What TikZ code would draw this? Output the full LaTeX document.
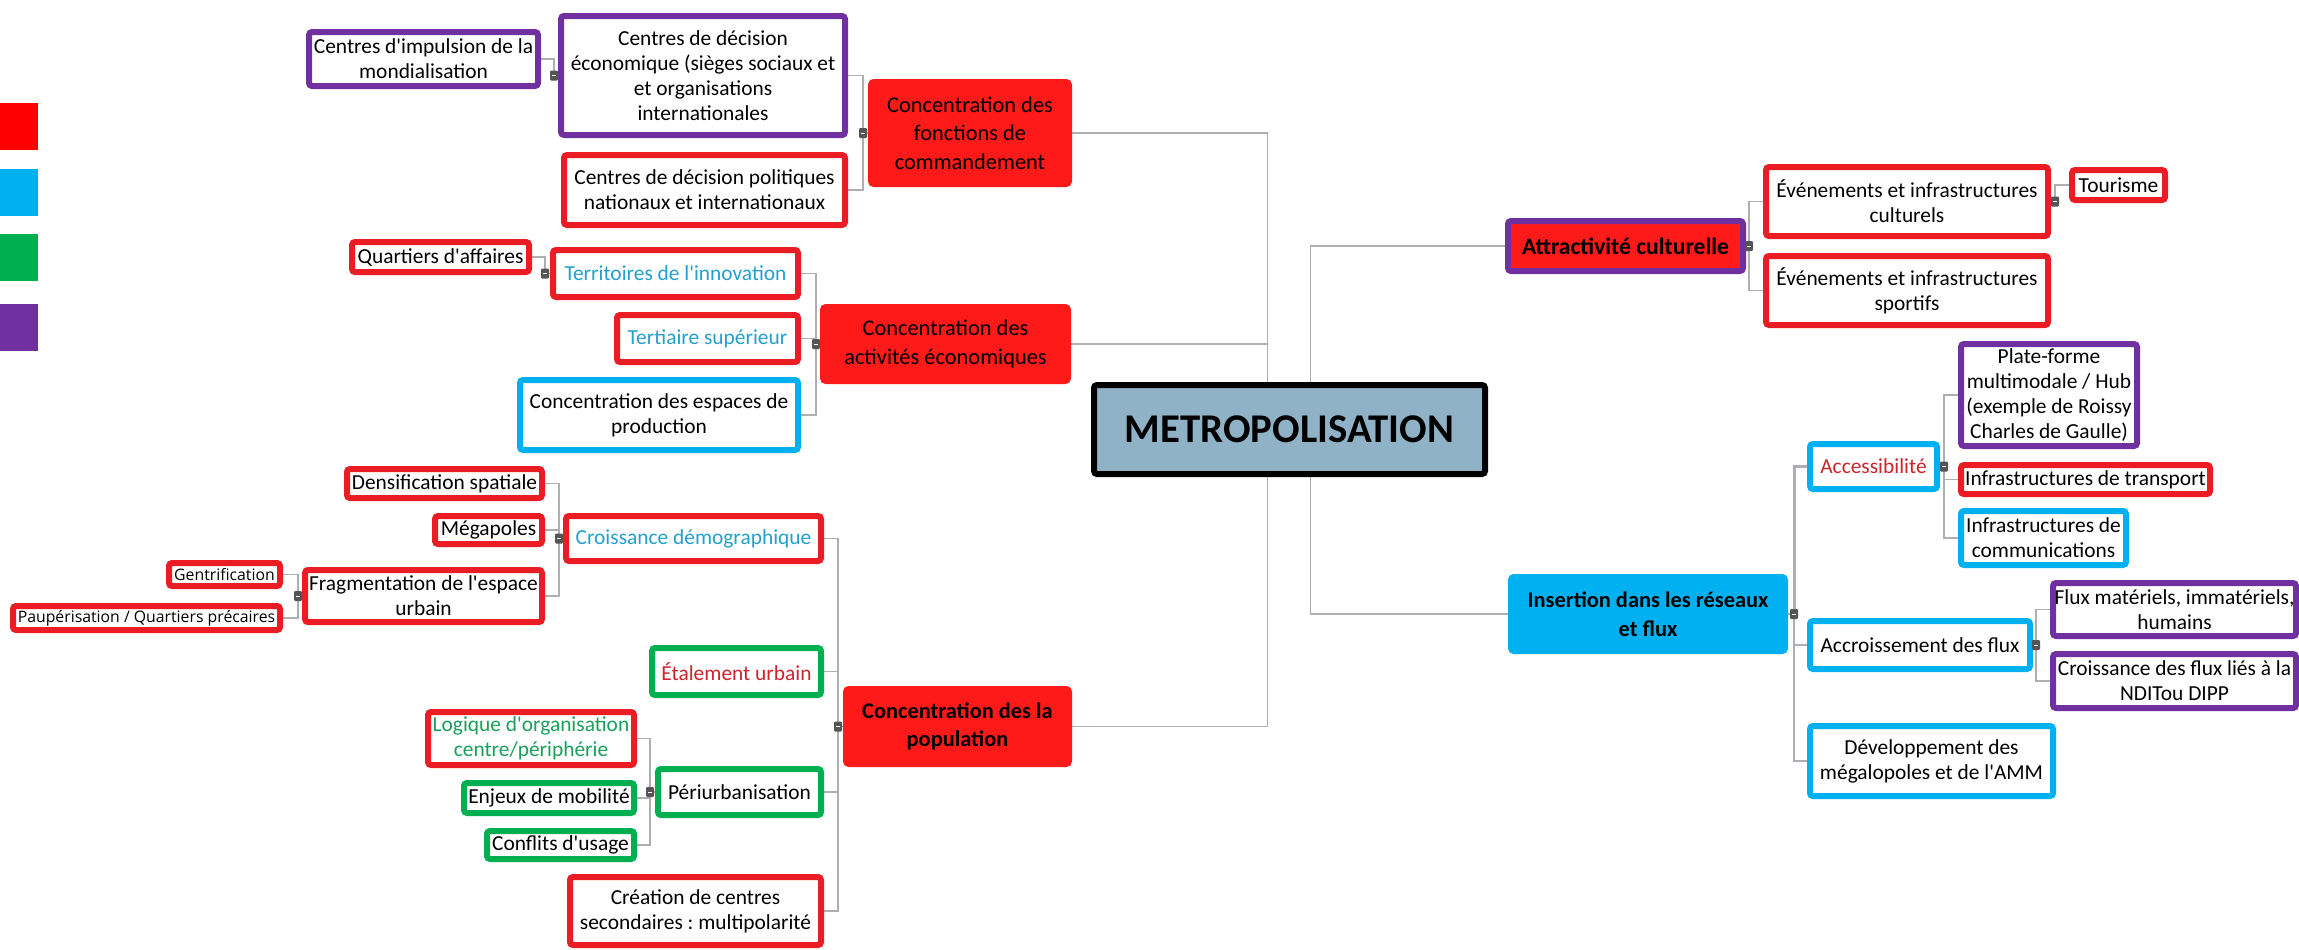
\documentclass[tikz,border=0pt]{standalone}
\usepackage{fontspec}
\setmainfont{Carlito}[Ligatures=TeXOff]
\newfontfamily\opensans{Open Sans}[Ligatures=TeXOff]
\usetikzlibrary{backgrounds}
\frenchspacing

\definecolor{mmred}{RGB}{236,28,36}
\definecolor{mmredfill}{RGB}{255,26,26}
\definecolor{mmblue}{RGB}{0,176,240}
\definecolor{mmgreen}{RGB}{0,176,80}
\definecolor{mmpurple}{RGB}{112,48,160}
\definecolor{mmroot}{RGB}{143,178,198}
\definecolor{mmline}{RGB}{175,175,175}
\definecolor{mmtog}{RGB}{85,85,85}
\definecolor{txtblue}{RGB}{35,160,205}
\definecolor{txtred}{RGB}{205,35,45}
\definecolor{txtgreen}{RGB}{25,160,90}
\definecolor{legred}{RGB}{255,0,0}

\tikzset{
    % Define style for boxes
    card/.style={
           rectangle,
           rounded corners=1.5pt,
           line width=3pt,
           fill=white,
           inner sep=0.5pt,
           align=center,
           font=\fontsize{10.7}{12.5}\selectfont},
    rbox/.style={card, draw=mmred},
    bbox/.style={card, draw=mmblue},
    gbox/.style={card, draw=mmgreen},
    pbox/.style={card, draw=mmpurple},
    rfill/.style={card, draw=mmredfill, fill=mmredfill,
           font=\fontsize{11.2}{14.3}\selectfont},
    bfill/.style={card, draw=mmblue, fill=mmblue,
           font=\bfseries\fontsize{11.2}{14.3}\selectfont},
    afill/.style={card, draw=mmpurple, fill=mmredfill,
           font=\bfseries\fontsize{11.8}{13}\selectfont},
    rootbox/.style={card, draw=black, fill=mmroot,
           font=\bfseries\fontsize{20.4}{22}\selectfont},
    small/.style={font=\opensans\fontsize{7.9}{9}\selectfont},
    legbox/.style={rectangle, inner sep=0pt,
           minimum width=19pt, minimum height=23.5pt},
    % Define link style
    link/.style={
           draw=mmline,
           line width=0.7pt},
    % collapse button
    tog/.style={
           rectangle,
           fill=mmtog,
           rounded corners=0.6pt,
           minimum width=4pt, minimum height=5pt,
           inner sep=0pt,
           path picture={\draw[white, line width=0.5pt]
              ([xshift=1pt]path picture bounding box.west) --
              ([xshift=-1pt]path picture bounding box.east);}}
}
% node from its outer corners (in px)
\newcommand*{\mmnode}[7]{\node[#1, minimum width={(#5-#3-6)*0.5pt},
    minimum height={(#6-#4-6)*0.5pt}] (#2) at ({(#3+#5)/2},{(#4+#6)/2}) {#7};}

\begin{document}
\begin{tikzpicture}[x=0.5pt, y=-0.5pt]
\useasboundingbox (0,0) rectangle (2299,949);

% Colour key
\node[legbox, fill=legred] (leg1) at (19,126.5) {};
\node[legbox, fill=mmblue] (leg2) at (19,192) {};
\node[legbox, fill=mmgreen] (leg3) at (19,257) {};
\node[legbox, fill=mmpurple] (leg4) at (19,327.5) {};

% Centre
\mmnode{rootbox}{root}{1091}{382}{1488}{477}{METROPOLISATION}

% Left branch: fonctions de commandement
\mmnode{rfill}{fonc}{868}{79}{1072}{187}{Concentration des\\fonctions de\\commandement}
\mmnode{pbox}{eco}{558}{13}{848}{138}{Centres de décision\\économique (sièges sociaux et\\et organisations\\internationales}
\mmnode{pbox}{impu}{306}{29}{541}{89}{Centres d'impulsion de la\\mondialisation}
\mmnode{rbox}{poli}{561}{152}{848}{228}{Centres de décision politiques\\nationaux et internationaux}

% Left branch: activites economiques
\mmnode{rfill}{acti}{820}{304}{1071}{384}{Concentration des\\activités économiques}
\mmnode{rbox, text=txtblue}{terr}{550}{247}{801}{300}{Territoires de l'innovation}
\mmnode{rbox}{quart}{349}{239}{532}{275}{Quartiers d'affaires}
\mmnode{rbox, text=txtblue}{tert}{614}{312}{801}{365}{Tertiaire supérieur}
\mmnode{bbox}{prod}{517}{377}{801}{453}{Concentration des espaces de\\production}

% Left branch: population
\mmnode{rfill, font=\bfseries\fontsize{11.2}{14.3}\selectfont}{popu}{843}{686}{1072}{767}{Concentration des la\\population}
\mmnode{rbox, text=txtblue}{crois}{563}{513}{824}{564}{Croissance démographique}
\mmnode{rbox}{dens}{344}{466}{545}{501}{Densification spatiale}
\mmnode{rbox}{mega}{432}{513}{545}{547}{Mégapoles}
\mmnode{rbox}{frag}{302}{567}{545}{625}{Fragmentation de l'espace\\urbain}
\mmnode{rbox, small}{gent}{166}{560}{283}{589}{Gentrification}
\mmnode{rbox, small}{paup}{10}{603}{283}{633}{Paupérisation / Quartiers précaires}
\mmnode{gbox, text=txtred}{etal}{649}{645}{824}{698}{Étalement urbain}
\mmnode{gbox}{peri}{655}{766}{824}{818}{Périurbanisation}
\mmnode{rbox, text=txtgreen}{logi}{425}{709}{637}{768}{Logique d'organisation\\centre/périphérie}
\mmnode{gbox}{enje}{461}{780}{637}{816}{Enjeux de mobilité}
\mmnode{gbox}{conf}{484}{828}{637}{862}{Conflits d'usage}
\mmnode{rbox}{crea}{567}{874}{824}{948}{Création de centres\\secondaires : multipolarité}

% Right branch: attractivite
\mmnode{afill}{attr}{1505}{218}{1746}{274}{Attractivité culturelle}
\mmnode{rbox}{cult}{1763}{164}{2051}{239}{Événements et infrastructures\\culturels}
\mmnode{rbox}{tour}{2069}{167}{2168}{203}{Tourisme}
\mmnode{rbox}{spor}{1763}{253}{2051}{328}{Événements et infrastructures\\sportifs}

% Right branch: reseaux et flux
\mmnode{bfill}{inse}{1508}{574}{1788}{654}{Insertion dans les réseaux\\et flux}
\mmnode{bbox, text=txtred}{acce}{1807}{441}{1940}{492}{Accessibilité}
\mmnode{pbox}{plat}{1958}{341}{2140}{449}{Plate-forme\\multimodale / Hub\\(exemple de Roissy\\Charles de Gaulle)}
\mmnode{rbox}{tran}{1958}{462}{2213}{497}{Infrastructures de transport}
\mmnode{bbox}{comm}{1958}{508}{2129}{568}{Infrastructures de\\communications}
\mmnode{bbox}{accr}{1807}{618}{2033}{672}{Accroissement des flux}
\mmnode{pbox}{flum}{2050}{580}{2299}{639}{Flux matériels, immatériels,\\humains}
\mmnode{pbox}{flcr}{2050}{651}{2299}{711}{Croissance des flux liés à la\\NDITou DIPP}
\mmnode{bbox}{deve}{1807}{723}{2056}{799}{Développement des\\mégalopoles et de l'AMM}

% Now connect the nodes, behind the boxes
\begin{scope}[on background layer]
\draw[link] (root.center) -- ++(-22,0) coordinate (root-l) |- (fonc.east);
\draw[link] (root-l) |- (acti.east);
\draw[link] (root-l) |- (popu.east);
\draw[link] (root.center) -- ++(21,0) coordinate (root-r) |- (attr.west);
\draw[link] (root-r) |- (inse.west);

\draw[link] (fonc.west) -- ++(-5,0) coordinate (fonc-t) |- (eco.east);
\draw[link] (fonc-t) |- (poli.east);
\draw[link] (eco.west) -- ++(-4,0) coordinate (eco-t) |- (impu.east);

\draw[link] (acti.west) -- ++(-4,0) coordinate (acti-t) |- (terr.east);
\draw[link] (acti-t) |- (tert.east);
\draw[link] (acti-t) |- (prod.east);
\draw[link] (terr.west) -- ++(-5,0) coordinate (terr-t) |- (quart.east);

\draw[link] (popu.west) -- ++(-5,0) coordinate (popu-t) |- (crois.east);
\draw[link] (popu-t) |- (etal.east);
\draw[link] (popu-t) |- (peri.east);
\draw[link] (popu-t) |- (crea.east);
\draw[link] (crois.west) -- ++(-4,0) coordinate (crois-t) |- (dens.east);
\draw[link] (crois-t) |- (mega.east);
\draw[link] (crois-t) |- (frag.east);
\draw[link] (frag.west) -- ++(-4,0) coordinate (frag-t) |- (gent.east);
\draw[link] (frag-t) |- (paup.east);
\draw[link] (peri.west) -- ++(-5,0) coordinate (peri-t) |- (logi.east);
\draw[link] (peri-t) |- (enje.east);
\draw[link] (peri-t) |- (conf.east);

\draw[link] (attr.east) -- ++(3,0) coordinate (attr-t) |- (cult.west);
\draw[link] (attr-t) |- (spor.west);
\draw[link] (cult.east) -- ++(4,0) coordinate (cult-t) |- (tour.west);

\draw[link] (inse.east) -- ++(6,0) coordinate (inse-t);
\draw[link, line width=1.5pt] (inse-t) |- (acce.west);
\draw[link] (inse-t) |- (accr.west);
\draw[link] (inse-t) |- (deve.west);
\draw[link] (acce.east) -- ++(4,0) coordinate (acce-t) |- (plat.west);
\draw[link] (acce-t) |- (tran.west);
\draw[link] (acce-t) |- (comm.west);
\draw[link] (accr.east) -- ++(3,0) coordinate (accr-t) |- (flum.west);
\draw[link] (accr-t) |- (flcr.west);
\end{scope}

% Collapse buttons on the branch points
\node[tog] (fonc-m) at (fonc-t) {};
\node[tog] (eco-m) at (eco-t) {};
\node[tog] (acti-m) at (acti-t) {};
\node[tog] (terr-m) at (terr-t) {};
\node[tog] (popu-m) at (popu-t) {};
\node[tog] (crois-m) at (crois-t) {};
\node[tog] (frag-m) at (frag-t) {};
\node[tog] (peri-m) at (peri-t) {};
\node[tog] (attr-m) at (attr-t) {};
\node[tog] (cult-m) at (cult-t) {};
\node[tog] (inse-m) at (inse-t) {};
\node[tog] (acce-m) at (acce-t) {};
\node[tog] (accr-m) at (accr-t) {};
\end{tikzpicture}
\end{document}
